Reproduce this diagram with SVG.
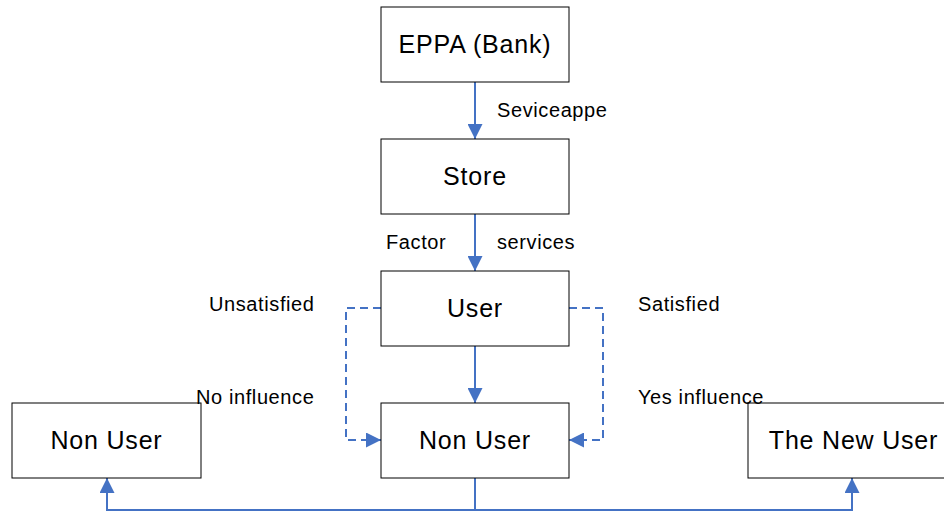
<svg xmlns="http://www.w3.org/2000/svg" width="944" height="512" viewBox="0 0 944 512">
<defs>
<style>
.box{fill:#fff;stroke:#000;stroke-width:1}
.nt{font-family:"Liberation Sans",Arial,sans-serif;font-size:25px;fill:#000;text-anchor:middle;letter-spacing:0.8px}
.lb{font-family:"Liberation Sans",Arial,sans-serif;font-size:20px;fill:#000;letter-spacing:0.6px}
.c{fill:none;stroke:#4472C4;stroke-width:2}
.d{fill:none;stroke:#4472C4;stroke-width:2;stroke-dasharray:8,5}
</style>
<marker id="ah" viewBox="0 0 10 10" refX="10" refY="5" markerWidth="7.5" markerHeight="7.5" markerUnits="strokeWidth" orient="auto">
<path d="M0,0 L10,5 L0,10 Z" fill="#4472C4"/>
</marker>
</defs>
<g id="connectors">
<line class="c" x1="475" y1="82" x2="475" y2="139" marker-end="url(#ah)"/>
<line class="c" x1="475" y1="214" x2="475" y2="271" marker-end="url(#ah)"/>
<line class="c" x1="475" y1="346" x2="475" y2="403" marker-end="url(#ah)"/>
<polyline class="d" points="381,308 346,308 346,440 381,440" marker-end="url(#ah)"/>
<polyline class="d" points="569,308 603,308 603,440 569,440" marker-end="url(#ah)"/>
<polyline class="c" points="475,478 475,510 107,510 107,478" marker-end="url(#ah)"/>
<polyline class="c" points="475,510 852,510 852,478" marker-end="url(#ah)"/>
</g>
<g id="eppa"><rect class="box" x="381" y="7" width="188" height="75"/><text class="nt" x="475" y="53">EPPA (Bank)</text></g>
<g id="store"><rect class="box" x="381" y="139" width="188" height="75"/><text class="nt" x="475" y="185">Store</text></g>
<g id="user"><rect class="box" x="381" y="271" width="188" height="75"/><text class="nt" x="475" y="317">User</text></g>
<g id="nonuser-center"><rect class="box" x="381" y="403" width="188" height="75"/><text class="nt" x="475" y="449">Non User</text></g>
<g id="nonuser-left"><rect class="box" x="12" y="403" width="189" height="75"/><text class="nt" x="106.5" y="449">Non User</text></g>
<g id="newuser"><rect class="box" x="748" y="403" width="200" height="75"/><text class="nt" x="853.5" y="449">The New User</text></g>
<g id="labels">
<text class="lb" x="497" y="117">Seviceappe</text>
<text class="lb" x="386" y="249">Factor</text>
<text class="lb" x="497" y="249">services</text>
<text class="lb" x="209" y="311">Unsatisfied</text>
<text class="lb" x="638" y="311">Satisfied</text>
<text class="lb" x="196" y="404">No influence</text>
<text class="lb" x="638" y="404">Yes influence</text>
</g>
</svg>
